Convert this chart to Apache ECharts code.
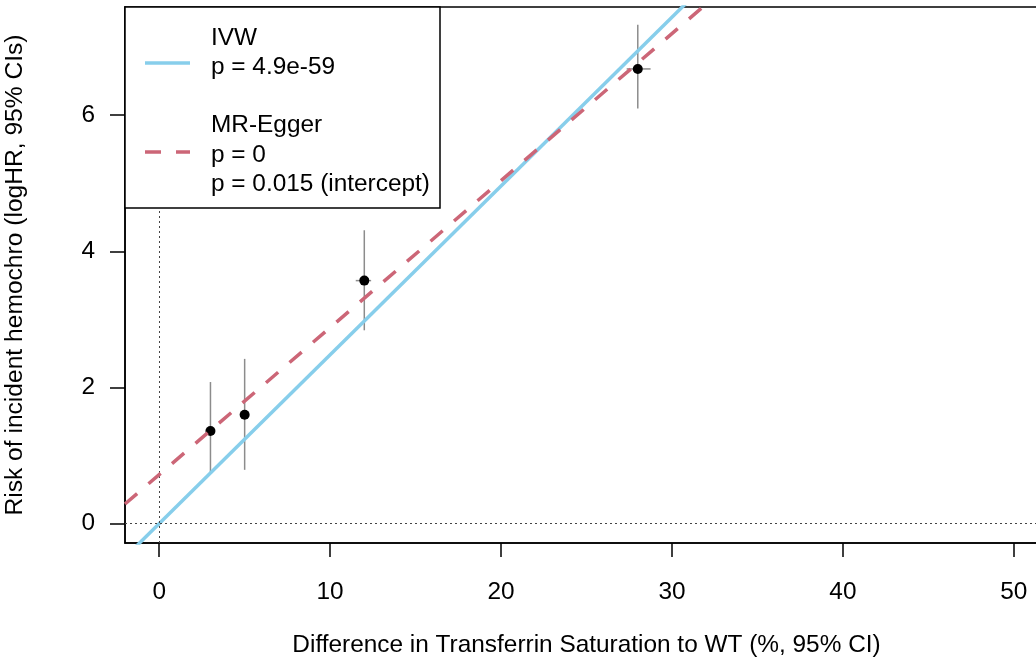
<!DOCTYPE html>
<html>
<head>
<meta charset="utf-8">
<script src="https://cdn.jsdelivr.net/npm/echarts@6/dist/echarts.min.js"></script>
<style>
html,body{margin:0;padding:0;background:#fff;}
#chart{width:1036px;height:661px;}
</style>
</head>
<body>
<div id="chart"></div>
<script>
// ---- data ----
const pointX    = [3, 5, 12, 28];
const pointY    = [1.36, 1.60, 3.57, 6.68];
const xLow      = [2.8, 4.8, 11.5, 27.35];
const xHigh     = [3.2, 5.2, 12.4, 28.75];
const yLow      = [0.73, 0.79, 2.84, 6.10];
const yHigh     = [2.08, 2.42, 4.31, 7.33];
const ivwSlope  = 0.248;
const eggerIntercept = 0.72;
const eggerSlope     = 0.216;
const xTicks = [0, 10, 20, 30, 40, 50];
const yTicks = [0, 2, 4, 6];
const xTitle = 'Difference in Transferrin Saturation to WT (%, 95% CI)';
const yTitle = 'Risk of incident hemochro (logHR, 95% CIs)';
const legendLines = ['IVW', 'p = 4.9e-59', 'MR-Egger', 'p = 0', 'p = 0.015 (intercept)'];

const X_MIN = -2, X_MAX = 52, Y_MIN = -0.285, Y_MAX = 7.59;
const FONT = 'Liberation Sans, Arial, sans-serif';
const FS = 24.4;

const chart = echarts.init(document.getElementById('chart'));

const errData = pointX.map((x, i) => [x, pointY[i], xLow[i], xHigh[i], yLow[i], yHigh[i]]);
const ivwLine = [[X_MIN, ivwSlope * X_MIN], [X_MAX, ivwSlope * X_MAX]];
const eggerLine = [[X_MIN, eggerIntercept + eggerSlope * X_MIN], [X_MAX, eggerIntercept + eggerSlope * X_MAX]];

const option = {
  animation: false,
  backgroundColor: '#fff',
  grid: { left: 125, top: 7, right: -12, bottom: 118, outerBoundsMode: 'none', containLabel: false,
          show: true, borderColor: '#000', borderWidth: 1.5, backgroundColor: 'transparent' },
  xAxis: {
    type: 'value', min: X_MIN, max: X_MAX,
    axisLine: { show: true, onZero: false, lineStyle: { color: '#000', width: 1.5 } },
    axisTick: { show: true, customValues: xTicks, length: 14, lineStyle: { color: '#000', width: 1.5 } },
    axisLabel: { customValues: xTicks, margin: 37, color: '#000', fontSize: FS, fontFamily: FONT },
    splitLine: { show: false },
    name: xTitle, nameLocation: 'middle', nameGap: 90,
    nameTextStyle: { color: '#000', fontSize: FS, fontFamily: FONT }
  },
  yAxis: {
    type: 'value', min: Y_MIN, max: Y_MAX,
    axisLine: { show: true, onZero: false, lineStyle: { color: '#000', width: 1.5 } },
    axisTick: { show: true, customValues: yTicks, length: 15, lineStyle: { color: '#000', width: 1.5 } },
    axisLabel: { customValues: yTicks, margin: 30, color: '#000', fontSize: FS, fontFamily: FONT },
    splitLine: { show: false },
    name: yTitle, nameLocation: 'middle', nameGap: 97,
    nameTextStyle: { color: '#000', fontSize: 24.6, fontFamily: FONT }
  },
  series: [
    {
      type: 'line', data: [], silent: true, z: 1,
      markLine: {
        symbol: 'none', silent: true, label: { show: false },
        lineStyle: { color: '#444', width: 1, type: [2, 3] },
        data: [{ xAxis: 0 }, { yAxis: 0 }]
      }
    },
    {
      type: 'custom', z: 2, silent: true,
      data: errData,
      renderItem: function (params, api) {
        const c = api.coord([api.value(0), api.value(1)]);
        const xl = api.coord([api.value(2), api.value(1)]);
        const xh = api.coord([api.value(3), api.value(1)]);
        const yl = api.coord([api.value(0), api.value(4)]);
        const yh = api.coord([api.value(0), api.value(5)]);
        const st = { stroke: '#8c8c8c', lineWidth: 1.5 };
        return { type: 'group', children: [
          { type: 'line', shape: { x1: xl[0], y1: c[1], x2: xh[0], y2: c[1] }, style: st },
          { type: 'line', shape: { x1: c[0], y1: yl[1], x2: c[0], y2: yh[1] }, style: st }
        ]};
      }
    },
    {
      type: 'scatter', z: 3, silent: true,
      data: pointX.map((x, i) => [x, pointY[i]]),
      symbol: 'circle', symbolSize: 10,
      itemStyle: { color: '#000', opacity: 1 }
    },
    {
      name: 'IVW', type: 'line', z: 4, silent: true, clip: true,
      data: ivwLine, showSymbol: false, symbol: 'none',
      lineStyle: { color: '#87CEEB', width: 3.5 }
    },
    {
      name: 'MR-Egger', type: 'line', z: 5, silent: true, clip: true,
      data: eggerLine, showSymbol: false, symbol: 'none',
      lineStyle: { color: '#CC6677', width: 3.5, type: [16, 15] }
    }
  ],
  graphic: [
    { type: 'rect', z: 100, shape: { x: 125, y: 7, width: 315, height: 201 },
      style: { fill: '#fff', stroke: '#000', lineWidth: 1.5 } },
    { type: 'line', z: 101, shape: { x1: 145, y1: 63, x2: 190, y2: 63 },
      style: { stroke: '#87CEEB', lineWidth: 3.5 } },
    { type: 'line', z: 101, shape: { x1: 145, y1: 152, x2: 190, y2: 152 },
      style: { stroke: '#CC6677', lineWidth: 3.5, lineDash: [16, 15] } },
    ...legendLines.map((t, i) => ({
      type: 'text', z: 101,
      x: 211, y: [38, 67, 125, 155, 184][i],
      style: { text: t, fill: '#000', font: FS + 'px ' + FONT, verticalAlign: 'middle' }
    }))
  ]
};
chart.setOption(option);
</script>
</body>
</html>
